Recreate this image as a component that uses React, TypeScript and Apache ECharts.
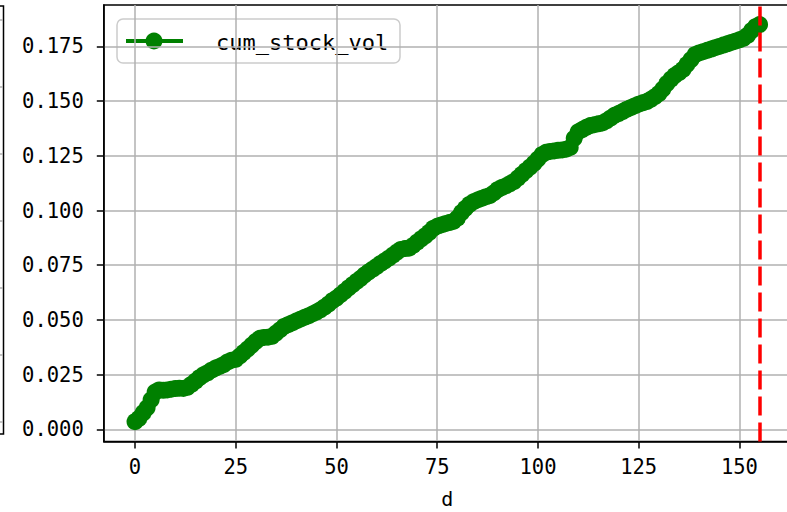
import React, { useEffect, useRef } from "react";
import * as echarts from "echarts";

const xTicks = [0, 25, 50, 75, 100, 125, 150];
const yTicks = [0, 0.025, 0.05, 0.075, 0.1, 0.125, 0.15, 0.175];
const seriesName = "cum_stock_vol";
const xName = "d";
const vlineX = 155;

const cumStockVol = [
  0.0035, 0.005, 0.0075, 0.0098, 0.0135, 0.017, 0.018, 0.0178, 0.018, 0.0183,
  0.0186, 0.0188, 0.0187, 0.0192, 0.0205, 0.022, 0.0236, 0.0249, 0.0258, 0.027,
  0.028, 0.0287, 0.0296, 0.0308, 0.0316, 0.032, 0.0335, 0.0352, 0.0368, 0.0385,
  0.0402, 0.0416, 0.042, 0.0421, 0.0425, 0.044, 0.0455, 0.047, 0.0478, 0.0486,
  0.0495, 0.0503, 0.0511, 0.0518, 0.0527, 0.0536, 0.0546, 0.0558, 0.0572, 0.0588,
  0.06, 0.0615, 0.063, 0.0646, 0.0661, 0.0676, 0.069, 0.0706, 0.072, 0.0732,
  0.0745, 0.0758, 0.077, 0.0782, 0.0796, 0.081, 0.0822, 0.0826, 0.0828, 0.084,
  0.0855, 0.087, 0.0884, 0.09, 0.0918, 0.0928, 0.0934, 0.094, 0.0945, 0.095,
  0.0965, 0.099, 0.101, 0.1028, 0.104, 0.1048, 0.1055, 0.1062, 0.1068, 0.108,
  0.1095, 0.1105, 0.1112, 0.1122, 0.1132, 0.1148, 0.1165, 0.1182, 0.1198, 0.1215,
  0.1235, 0.1255, 0.1266, 0.127, 0.1272, 0.1275, 0.1277, 0.128, 0.1288, 0.133,
  0.136, 0.137, 0.138, 0.1388, 0.1392, 0.1396, 0.14, 0.141, 0.1422, 0.1435,
  0.1443, 0.1452, 0.1462, 0.147, 0.1478, 0.1486, 0.1492, 0.1498, 0.1508, 0.152,
  0.1534, 0.1555, 0.158, 0.16, 0.1618, 0.163, 0.1645, 0.1668, 0.169, 0.1712,
  0.172, 0.1726, 0.1732, 0.1738, 0.1744, 0.175, 0.1756, 0.1762, 0.1768, 0.1774,
  0.178, 0.1787, 0.18, 0.1822, 0.184, 0.185,
];
const dValues = cumStockVol.map((_, i) => i);

const tickFont = "DejaVu Sans Mono";

export default function App() {
  const ref = useRef<HTMLDivElement>(null);
  useEffect(() => {
    if (!ref.current) return;
    const chart = echarts.init(ref.current, null, { renderer: "svg" });
    const data = dValues.map((d, i) => [d, cumStockVol[i]]);
    chart.setOption({
      animation: false,
      backgroundColor: "#fff",
      grid: {
        left: 103.8,
        top: 5,
        width: 687,
        height: 436.5,
        show: true,
        borderColor: "#000",
        borderWidth: 1.5,
        backgroundColor: "transparent",
        containLabel: false,
        outerBoundsMode: "none",
      },
      xAxis: {
        type: "value",
        min: -7.75,
        max: 162.75,
        name: xName,
        nameLocation: "middle",
        nameGap: 57,
        nameTextStyle: {
          fontFamily: tickFont,
          fontSize: 20,
          lineHeight: 16,
          color: "#000",
          verticalAlign: "middle",
        },
        axisLine: { onZero: false, lineStyle: { color: "#000", width: 1.5 } },
        axisTick: { show: true, customValues: xTicks, length: 7, lineStyle: { color: "#000", width: 1.5 } },
        axisLabel: {
          customValues: xTicks,
          margin: 15,
          fontFamily: tickFont,
          fontSize: 20.5,
          color: "#000",
        },
        splitLine: { show: true, lineStyle: { color: "#b0b0b0", width: 1.5 } },
      },
      yAxis: {
        type: "value",
        min: -0.00558,
        max: 0.19393,
        axisLine: { show: true, onZero: false, lineStyle: { color: "#000", width: 1.5 } },
        axisTick: { show: true, customValues: yTicks, length: 7, lineStyle: { color: "#000", width: 1.5 } },
        axisLabel: {
          customValues: yTicks,
          margin: 20,
          fontFamily: tickFont,
          fontSize: 20.5,
          color: "#000",
          formatter: (v: number) => v.toFixed(3),
        },
        splitLine: { show: true, lineStyle: { color: "#b0b0b0", width: 1.5 } },
      },
      series: [
        {
          type: "line",
          name: seriesName,
          data,
          symbol: "circle",
          symbolSize: 17,
          showAllSymbol: true,
          lineStyle: { color: "#008000", width: 3 },
          itemStyle: { color: "#008000" },
          clip: false,
          markLine: {
            silent: true,
            symbol: "none",
            label: { show: false },
            lineStyle: { color: "#ff0000", width: 3.5, type: [19, 7] },
            data: [{ xAxis: vlineX }],
            z: 10,
          },
        },
      ],
      graphic: [
        {
          type: "polyline",
          shape: { points: [[0, 6], [3.5, 6], [3.5, 434], [0, 434]] },
          style: { stroke: "#000", lineWidth: 1.5, fill: null },
        },
        ...[20, 87, 154, 221, 288, 355, 422].map((y) => ({
          type: "line",
          shape: { x1: 0, y1: y, x2: 3, y2: y },
          style: { stroke: "#b0b0b0", lineWidth: 1.5 },
        })),
        {
          type: "group",
          z: 100,
          children: [
            {
              type: "rect",
              shape: { x: 117, y: 19, width: 283, height: 44, r: 6 },
              style: { fill: "rgba(255,255,255,0.8)", stroke: "#cccccc", lineWidth: 1.5 },
            },
            {
              type: "line",
              shape: { x1: 126, y1: 41, x2: 183, y2: 41 },
              style: { stroke: "#008000", lineWidth: 4, lineDash: null },
            },
            {
              type: "circle",
              shape: { cx: 154, cy: 41, r: 8.5 },
              style: { fill: "#008000" },
            },
            {
              type: "text",
              x: 216,
              y: 42,
              style: {
                text: seriesName,
                fontFamily: tickFont,
                fontSize: 22,
                fill: "#000",
                verticalAlign: "middle",
              },
            },
          ],
        },
      ],
    });
    return () => chart.dispose();
  }, []);
  return (
    <div
      ref={ref}
      style={{ position: "fixed", left: 0, top: 0, width: 787, height: 512 }}
    />
  );
}
